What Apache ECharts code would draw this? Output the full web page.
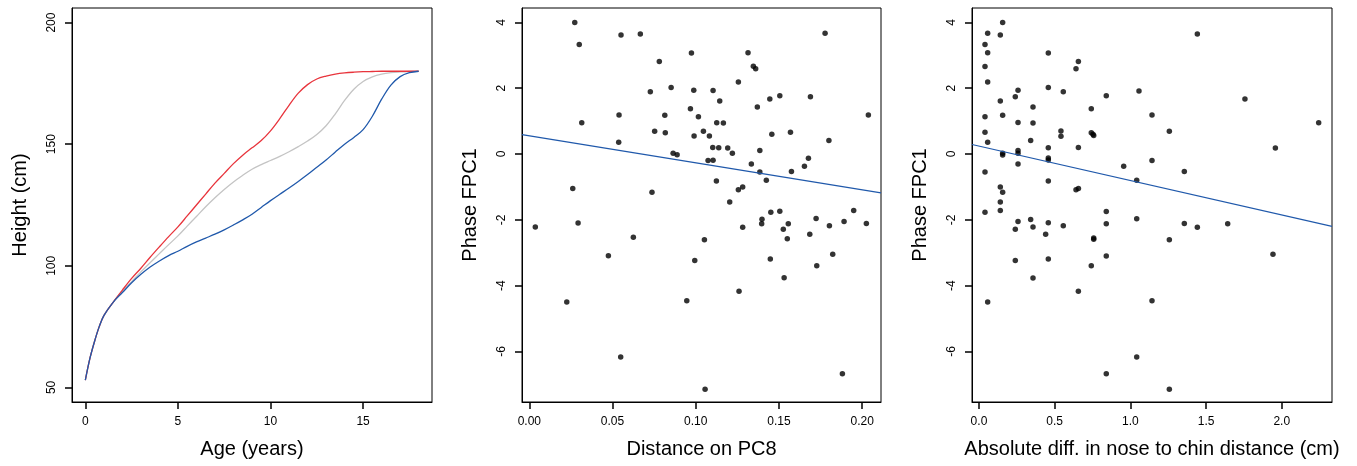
<!DOCTYPE html>
<html>
<head>
<meta charset="utf-8">
<script src="https://cdn.jsdelivr.net/npm/echarts@6/dist/echarts.min.js"></script>
<style>
html,body{margin:0;padding:0;background:#fff;}
#chart{width:1357px;height:466px;}
</style>
</head>
<body>
<div id="chart"></div>
<script>
// ---------- Panel 1: growth curves ----------
const ages = [0,0.25,0.5,0.75,1,1.5,2,2.5,3,3.5,4,4.5,5,5.5,6,6.5,7,7.5,8,8.5,9,9.5,10,10.5,11,11.5,12,12.5,13,13.5,14,14.5,15,15.5,16,16.5,17,17.5,18];
const heightRed  = [53,62,69,75,79.5,85,90,94.8,99,103.5,107.8,112,116,120.5,125,129.5,134,138,142,145.5,148.5,151.5,155.5,160.5,166,171,174.5,176.8,178,178.8,179.3,179.6,179.8,179.9,180,180,180,180,180];
const heightGray = [53,62,69,75,79.5,85,89.6,93.5,97.5,101.3,105,108.7,112.3,116.3,120.3,124.3,128,131.4,134.5,137.2,139.7,141.6,143.3,145,146.9,149,151.3,154,157.6,162.5,168,172.6,175.8,177.7,178.8,179.4,179.7,179.9,180];
const heightBlue = [53,62,69,75,79.5,85,89,93,96.5,99.5,102,104.2,106,108,109.8,111.4,113,114.8,116.8,118.9,121.2,124,126.8,129.4,132,134.7,137.5,140.5,143.5,146.8,150,152.8,156,161.5,168.5,174.3,177.8,179.4,180];
const ageTicks = [0,5,10,15];
const heightTicks = [50,100,150,200];

// ---------- Panel 2: Distance on PC8 vs Phase FPC1 ----------
const pc8Dist = [0.0273,0.030,0.0551,0.0667,0.0974,0.0781,0.0727,0.0852,0.0988,0.0968,0.1016,0.0539,0.0814,0.0315,0.0753,0.0817,0.099,0.0537,0.0864,0.0888,0.0261,0.0737,0.1777,0.1314,0.1346,0.136,0.1256,0.1104,0.1144,0.1505,0.1445,0.1689,0.137,0.1126,0.1166,0.2037,0.1046,0.1082,0.1457,0.1569,0.18,0.1102,0.1138,0.1192,0.122,0.1385,0.1074,0.1104,0.1334,0.1385,0.1677,0.1653,0.1575,0.1424,0.1124,0.1282,0.1256,0.1204,0.0036,0.0293,0.0625,0.0475,0.0994,0.0225,0.0946,0.0549,0.1451,0.1505,0.1949,0.1398,0.1396,0.1282,0.1526,0.1556,0.1723,0.1803,0.1891,0.2025,0.1685,0.155,0.1052,0.1448,0.1823,0.1727,0.1531,0.126,0.1881,0.1056];
const pc8Phase = [4.0,3.33,3.62,3.65,3.07,2.81,1.89,2.02,1.94,1.38,1.13,1.19,1.18,0.95,0.69,0.65,0.55,0.36,0.02,-0.02,-1.05,-1.16,3.67,3.08,2.67,2.59,2.19,1.93,1.61,1.77,1.67,1.74,1.43,0.95,0.94,1.19,0.69,0.55,0.60,0.66,0.41,0.20,0.19,0.18,0.02,0.11,-0.20,-0.19,-0.30,-0.55,-0.13,-0.37,-0.53,-0.80,-0.82,-1.0,-1.09,-1.46,-2.22,-2.10,-2.53,-3.09,-3.24,-4.50,-4.46,-6.17,-1.77,-1.74,-1.72,-1.98,-2.12,-2.23,-2.29,-2.12,-1.96,-2.18,-2.05,-2.11,-2.44,-2.58,-2.61,-3.19,-3.05,-3.40,-3.76,-4.17,-6.68,-7.15];
const pc8FitIntercept = 0.554;
const pc8FitSlope = -8.22;
const pc8Ticks = [0,0.05,0.10,0.15,0.20];

// ---------- Panel 3: nose-to-chin diff vs Phase FPC1 ----------
const noseDiff = [0.1565,0.0575,0.141,0.0398,0.0575,0.458,0.6566,0.641,0.0398,0.0575,0.258,0.240,0.458,0.557,0.841,1.057,0.141,0.357,0.742,0.0398,0.1565,0.258,0.357,0.0398,0.0575,0.5416,0.5416,0.742,0.753,0.758,0.3415,0.458,0.6566,0.258,0.258,0.1565,0.1565,0.458,0.458,0.258,0.956,0.0398,1.042,0.458,0.141,0.1565,0.641,0.657,0.141,1.4425,1.757,1.143,2.244,1.2575,1.958,1.143,1.3565,0.0398,0.141,0.841,1.042,0.258,0.3415,0.458,0.557,0.841,0.240,0.357,0.4405,0.758,0.758,0.240,0.458,0.841,0.742,0.357,0.6566,0.0575,1.042,0.841,1.3565,1.4425,1.643,1.2575,1.942,1.143,1.2575];
const nosePhase = [4.0,3.67,3.62,3.33,3.08,3.07,2.81,2.59,2.66,2.19,1.94,1.74,2.02,1.89,1.77,1.92,1.61,1.43,1.38,1.13,1.18,0.96,0.94,0.66,0.36,0.70,0.54,0.65,0.60,0.56,0.41,0.19,0.20,0.11,0.02,0.02,-0.03,-0.12,-0.18,-0.30,-0.37,-0.55,-0.80,-0.82,-1.0,-1.16,-1.09,-1.05,-1.46,3.65,1.67,1.19,0.95,0.69,0.18,-0.20,-0.53,-1.77,-1.72,-1.75,-1.97,-2.05,-1.99,-2.09,-2.18,-2.12,-2.29,-2.22,-2.44,-2.55,-2.59,-3.24,-3.19,-3.10,-3.40,-3.77,-4.17,-4.50,-6.17,-6.68,-2.11,-2.23,-2.12,-2.61,-3.05,-4.46,-7.15];
const noseFitIntercept = 0.242;
const noseFitSlope = -1.047;
const noseTicks = [0,0.5,1.0,1.5,2.0];

const phaseTicks = [-6,-4,-2,0,2,4];

// ---------- helpers ----------
const FONT = '"Liberation Sans", Arial, sans-serif';
const zipPairs = (xs, ys) => xs.map((x, i) => [x, ys[i]]);
const fitLine = (a, b, x0, x1) => [[x0, a + b * x0], [x1, a + b * x1]];

function xAxisCfg(gridIndex, min, max, ticks, fmt, name) {
  return {
    type: 'value', gridIndex, min, max,
    axisLine: { show: true, onZero: false, lineStyle: { color: '#000', width: 1 } },
    splitLine: { show: false },
    axisTick: { show: true, length: 7, customValues: ticks, lineStyle: { color: '#000', width: 1.5 } },
    axisLabel: { show: true, customValues: ticks, formatter: fmt, margin: 14, color: '#000', fontSize: 12, fontFamily: FONT },
    name, nameLocation: 'middle', nameGap: 37,
    nameTextStyle: { fontSize: 20, color: '#000', fontFamily: FONT }
  };
}
function yAxisCfg(gridIndex, min, max, ticks, name) {
  return {
    type: 'value', gridIndex, min, max,
    axisLine: { show: true, onZero: false, lineStyle: { color: '#000', width: 1 } },
    splitLine: { show: false },
    axisTick: { show: true, length: 7, customValues: ticks, lineStyle: { color: '#000', width: 1.5 } },
    axisLabel: { show: true, customValues: ticks, rotate: 90, formatter: v => String(v), margin: 14, color: '#000', fontSize: 12, fontFamily: FONT },
    name, nameLocation: 'middle', nameRotate: 90, nameGap: 42,
    nameTextStyle: { fontSize: 20, color: '#000', fontFamily: FONT }
  };
}

const x1min = -0.72, x1max = 18.72, y1min = 44, y1max = 206;
const x2min = -0.0044, x2max = 0.2113;
const x3min = -0.046, x3max = 2.332;
const ypmin = -7.54, ypmax = 4.44;

const gridBox = { show: true, borderColor: '#000', borderWidth: 1, backgroundColor: 'transparent' };

const curveStyle = (color) => ({ type: 'line', xAxisIndex: 0, yAxisIndex: 0, smooth: 0.35, showSymbol: false, lineStyle: { color, width: 1.3 } });

const option = {
  backgroundColor: '#fff',
  animation: false,
  grid: [
    Object.assign({ left: 72, top: 8, width: 360, height: 394 }, gridBox),
    Object.assign({ left: 522, top: 8, width: 359, height: 394 }, gridBox),
    Object.assign({ left: 972, top: 8, width: 360, height: 394 }, gridBox)
  ],
  xAxis: [
    xAxisCfg(0, x1min, x1max, ageTicks, v => String(v), 'Age (years)'),
    xAxisCfg(1, x2min, x2max, pc8Ticks, v => v.toFixed(2), 'Distance on PC8'),
    xAxisCfg(2, x3min, x3max, noseTicks, v => v.toFixed(1), 'Absolute diff. in nose to chin distance (cm)')
  ],
  yAxis: [
    yAxisCfg(0, y1min, y1max, heightTicks, 'Height (cm)'),
    yAxisCfg(1, ypmin, ypmax, phaseTicks, 'Phase FPC1'),
    yAxisCfg(2, ypmin, ypmax, phaseTicks, 'Phase FPC1')
  ],
  series: [
    Object.assign(curveStyle('#c4c4c4'), { data: zipPairs(ages, heightGray) }),
    Object.assign(curveStyle('#e8343c'), { data: zipPairs(ages, heightRed) }),
    Object.assign(curveStyle('#2059ab'), { data: zipPairs(ages, heightBlue) }),

    { type: 'scatter', xAxisIndex: 1, yAxisIndex: 1, data: zipPairs(pc8Dist, pc8Phase), symbol: 'circle', symbolSize: 5.5, itemStyle: { color: '#000' } },
    { type: 'line', xAxisIndex: 1, yAxisIndex: 1, data: fitLine(pc8FitIntercept, pc8FitSlope, x2min, x2max), showSymbol: false, lineStyle: { color: '#2059ab', width: 1.2 } },

    { type: 'scatter', xAxisIndex: 2, yAxisIndex: 2, data: zipPairs(noseDiff, nosePhase), symbol: 'circle', symbolSize: 5.5, itemStyle: { color: '#000' } },
    { type: 'line', xAxisIndex: 2, yAxisIndex: 2, data: fitLine(noseFitIntercept, noseFitSlope, x3min, x3max), showSymbol: false, lineStyle: { color: '#2059ab', width: 1.2 } }
  ]
};

const chart = echarts.init(document.getElementById('chart'), null, { renderer: 'canvas' });
chart.setOption(option);
</script>
</body>
</html>
